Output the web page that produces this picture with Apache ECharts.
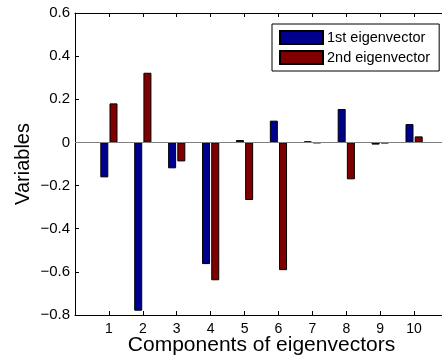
<!DOCTYPE html>
<html>
<head>
<meta charset="utf-8">
<script src="https://cdn.jsdelivr.net/npm/echarts@6/dist/echarts.min.js"></script>
<style>
  html, body { margin: 0; padding: 0; background: #fff; }
  #chart { width: 442px; height: 360px; }
</style>
</head>
<body>
<div id="chart"></div>
<script>
// Component index (1..10) and loadings of the first two eigenvectors
const components = [1, 2, 3, 4, 5, 6, 7, 8, 9, 10];
const eig1 = [-0.162, -0.780, -0.120, -0.564, 0.011, 0.101, 0.005, 0.155, -0.010, 0.085];
const eig2 = [0.181, 0.323, -0.088, -0.639, -0.267, -0.592, -0.003, -0.171, -0.004, 0.028];
const yTicks = [-0.8, -0.6, -0.4, -0.2, 0, 0.2, 0.4, 0.6];

const FONT = 'Liberation Sans, Arial, Helvetica, sans-serif';

const fmtY = v => {
  const r = Math.round(v * 10) / 10;
  if (r === 0) return '0';
  return (r < 0 ? '\u2212' : '') + Math.abs(r).toFixed(1);
};

const chart = echarts.init(document.getElementById('chart'), null, { renderer: 'canvas' });

chart.setOption({
  animation: false,
  backgroundColor: '#fff',
  textStyle: { fontFamily: FONT },
  grid: { left: 75, top: 13, width: 373, height: 302, containLabel: false, outerBoundsMode: 'none' },
  legend: {
    orient: 'vertical',
    left: 272,
    top: 24,
    padding: [6, 9, 6, 7],
    itemWidth: 43,
    itemHeight: 13,
    itemGap: 5,
    icon: 'rect',
    backgroundColor: '#fff',
    borderColor: '#000',
    borderWidth: 1,
    borderRadius: 0,
    textStyle: { fontFamily: FONT, fontSize: 14.5, color: '#000', padding: [0, 0, 0, -1] },
    data: ['1st eigenvector', '2nd eigenvector']
  },
  xAxis: [
    {
      type: 'value',
      min: 0,
      max: 11,
      interval: 1,
      position: 'bottom',
      name: 'Components of eigenvectors',
      nameLocation: 'middle',
      nameGap: 20,
      nameMoveOverlap: false,
      nameTextStyle: { fontFamily: FONT, fontSize: 21, color: '#000' },
      axisLine: { onZero: false, lineStyle: { color: '#000', width: 1 } },
      axisTick: { inside: true, length: 4, lineStyle: { color: '#000' } },
      axisLabel: {
        fontFamily: FONT, fontSize: 14, color: '#000', margin: 7,
        formatter: v => (components.indexOf(v) >= 0 ? String(v) : '')
      },
      splitLine: { show: false }
    },
    {
      type: 'value',
      min: 0,
      max: 11,
      interval: 1,
      position: 'top',
      axisLine: { onZero: false, lineStyle: { color: '#000', width: 1 } },
      axisTick: { inside: true, length: 4, lineStyle: { color: '#000' } },
      axisLabel: { show: false },
      splitLine: { show: false }
    }
  ],
  yAxis: {
    type: 'value',
    min: yTicks[0],
    max: yTicks[yTicks.length - 1],
    interval: 0.2,
    name: 'Variables',
    nameLocation: 'middle',
    nameGap: 42,
    nameMoveOverlap: false,
    nameTextStyle: { fontFamily: FONT, fontSize: 20, color: '#000' },
    axisLine: { show: true, lineStyle: { color: '#000', width: 1 } },
    axisTick: { show: true, inside: true, length: 4, lineStyle: { color: '#000' } },
    axisLabel: { fontFamily: FONT, fontSize: 15, color: '#000', margin: 5, formatter: fmtY },
    splitLine: { show: false }
  },
  series: [
    {
      name: '1st eigenvector',
      type: 'bar',
      xAxisIndex: 0,
      barWidth: 8,
      barGap: '15%',
      itemStyle: { color: '#00008f', borderColor: '#000', borderWidth: 1 },
      data: components.map((c, i) => [c, eig1[i]]),
      markLine: {
        silent: true,
        symbol: 'none',
        label: { show: false },
        lineStyle: { color: '#808080', width: 1, type: 'solid' },
        data: [{ yAxis: 0 }]
      }
    },
    {
      name: '2nd eigenvector',
      type: 'bar',
      xAxisIndex: 0,
      barWidth: 8,
      barGap: '15%',
      itemStyle: { color: '#800000', borderColor: '#000', borderWidth: 1 },
      data: components.map((c, i) => [c, eig2[i]])
    }
  ]
});
</script>
</body>
</html>
